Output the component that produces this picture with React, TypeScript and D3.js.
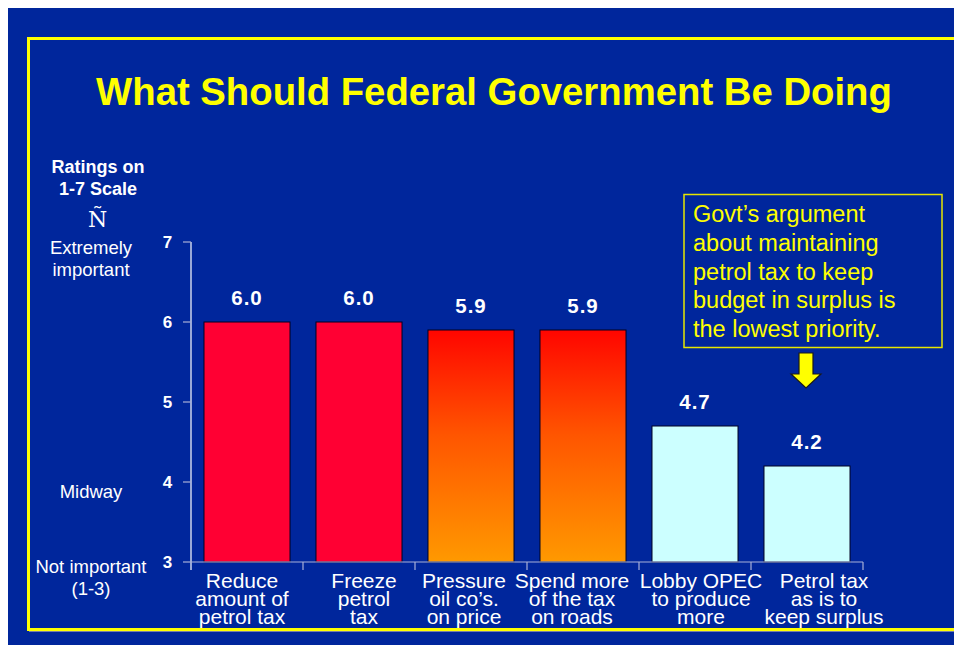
import React from "react";
import * as d3 from "d3";

const categories = [
  ["Reduce", "amount of", "petrol tax"],
  ["Freeze", "petrol", "tax"],
  ["Pressure", "oil co\u2019s.", "on price"],
  ["Spend more", "of the tax", "on roads"],
  ["Lobby OPEC", "to produce", "more"],
  ["Petrol tax", "as is to", "keep surplus"],
];
const values = [6.0, 6.0, 5.9, 5.9, 4.7, 4.2];
const fillKinds = ["red", "red", "grad", "grad", "light", "light"];
const yTicks = [3, 4, 5, 6, 7];
const noteLines = [
  "Govt\u2019s argument",
  "about maintaining",
  "petrol tax to keep",
  "budget in surplus is",
  "the lowest priority.",
];

// layout: horizontal nudge of each category label relative to its bar centre
const labelShift = [-5, 5, -7, -11, 6, 17];

const FONT = "'Liberation Sans', Arial, Helvetica, sans-serif";

export default function App() {
  const W = 962;
  const H = 645;
  const keys = categories.map((_, i) => String(i));
  const x = d3.scaleBand<string>().domain(keys).range([191, 863]).paddingInner(0.232).paddingOuter(0.116);
  const y = d3.scaleLinear().domain([3, 7]).range([562, 242]);
  const fills: Record<string, string> = { red: "#ff0033", grad: "url(#orangeGrad)", light: "#ccffff" };

  const arrowX = 806;
  const arrowPath = `M${arrowX - 7},353 L${arrowX + 7},353 L${arrowX + 7},374 L${arrowX + 15},374 L${arrowX},388 L${arrowX - 15},374 L${arrowX - 7},374 Z`;

  return (
    <svg width={W} height={H} style={{ display: "block" }}>
      <defs>
        <linearGradient id="orangeGrad" x1="0" y1="0" x2="0" y2="1">
          <stop offset="0%" stopColor="#ff0500" />
          <stop offset="45%" stopColor="#ff5500" />
          <stop offset="100%" stopColor="#ff9900" />
        </linearGradient>
      </defs>
      <g transform="translate(-8,-8)">
        <rect x={8} y={8} width={W} height={H} fill="#00269c" />
        {/* border */}
        <rect x={29.5} y={39.5} width={929} height={592} fill="none" stroke="#7880a8" strokeWidth={1} />
        <rect x={28.5} y={38.5} width={928} height={591} fill="none" stroke="#ffff00" strokeWidth={3} />

        <text x={494} y={105} textAnchor="middle" fill="#ffff00" fontFamily={FONT} fontWeight="bold" fontSize={38.3}>
          What Should Federal Government Be Doing
        </text>

        {/* left side labels */}
        <g fontFamily={FONT} fill="#ffffff" textAnchor="middle">
          <text x={98} y={173} fontWeight="bold" fontSize={18}>Ratings on</text>
          <text x={98} y={195} fontWeight="bold" fontSize={18}>1-7 Scale</text>
          <text x={97.5} y={227} fontFamily="'DejaVu Serif', 'Liberation Serif', serif" fontSize={22}>{"\u00d1"}</text>
          <text x={91} y={254} fontSize={18.5}>Extremely</text>
          <text x={91} y={276} fontSize={18.5}>important</text>
          <text x={91} y={498} fontSize={18.5}>Midway</text>
          <text x={91} y={573} fontSize={18.5}>Not important</text>
          <text x={91} y={595} fontSize={18.5}>(1-3)</text>
        </g>

        {/* y axis */}
        <line x1={191} x2={191} y1={242} y2={570} stroke="#ffffff" strokeWidth={1.2} />
        {yTicks.map((t) => (
          <g key={t}>
            <line x1={183} x2={191} y1={y(t)} y2={y(t)} stroke="#a8b0d8" strokeWidth={1.2} />
            <text x={167.5} y={y(t) + 6} textAnchor="middle" fill="#ffffff" fontFamily={FONT} fontWeight="bold" fontSize={17}>
              {t}
            </text>
          </g>
        ))}

        {/* bars */}
        {values.map((v, i) => (
          <g key={i}>
            <rect
              x={x(keys[i])!}
              y={y(v)}
              width={x.bandwidth()}
              height={y(3) - y(v)}
              fill={fills[fillKinds[i]]}
              stroke="#000022"
              strokeWidth={1}
            />
            <text
              x={x(keys[i])! + x.bandwidth() / 2}
              y={y(v) - 17}
              textAnchor="middle"
              fill="#ffffff"
              fontFamily={FONT}
              fontWeight="bold"
              fontSize={20.5}
              letterSpacing={1}
            >
              {v.toFixed(1)}
            </text>
          </g>
        ))}

        {/* x axis */}
        <line x1={191} x2={863} y1={562} y2={562} stroke="#a8b0d8" strokeWidth={1.2} />
        {keys.map((k) => {
          const tx = x(k)! + x.bandwidth() + (x.step() - x.bandwidth()) / 2;
          return <line key={k} x1={tx} x2={tx} y1={562} y2={570} stroke="#a8b0d8" strokeWidth={1.2} />;
        })}
        {categories.map((lines, i) => {
          const cx = x(keys[i])! + x.bandwidth() / 2 + labelShift[i];
          return (
            <text key={i} x={cx} textAnchor="middle" fill="#ffffff" fontFamily={FONT} fontSize={21}>
              {lines.map((l, j) => (
                <tspan key={j} x={cx} y={588 + j * 18.2}>
                  {l}
                </tspan>
              ))}
            </text>
          );
        })}

        {/* annotation */}
        <rect x={684} y={194.5} width={258} height={153} fill="none" stroke="#e6e600" strokeWidth={1.5} />
        {noteLines.map((l, i) => (
          <text key={i} x={693} y={222 + i * 28.8} fill="#ffff00" fontFamily={FONT} fontSize={23.5}>
            {l}
          </text>
        ))}
        <path d={arrowPath} fill="#ffff00" stroke="#1a1a1a" strokeWidth={1.2} />
      </g>
    </svg>
  );
}
